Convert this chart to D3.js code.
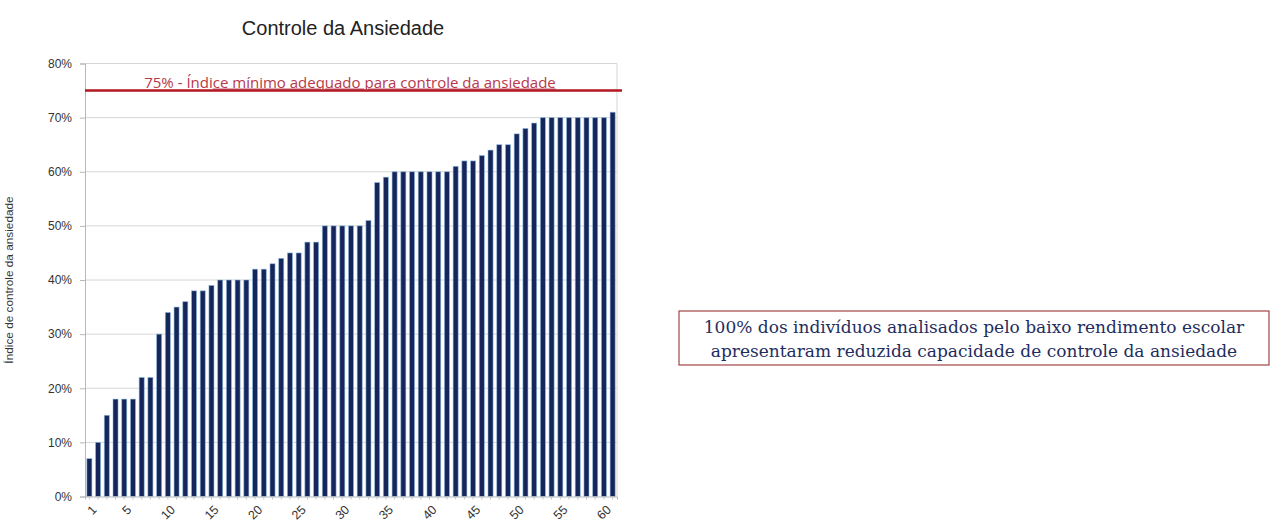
<!DOCTYPE html>
<html>
<head>
<meta charset="utf-8">
<script src="https://cdn.jsdelivr.net/npm/d3@7"></script>
<style>
  html, body { margin: 0; padding: 0; background: #fff; }
  svg { display: block; }
</style>
</head>
<body>
<svg id="chart" width="1271" height="525"></svg>
<script>
// ---- data ----
const categories = [1,2,3,4,5,6,7,8,9,10,11,12,13,14,15,16,17,18,19,20,
  21,22,23,24,25,26,27,28,29,30,31,32,33,34,35,36,37,38,39,40,
  41,42,43,44,45,46,47,48,49,50,51,52,53,54,55,56,57,58,59,60,61];
const values = [7,10,15,18,18,18,22,22,30,34,35,36,38,38,39,40,40,40,40,42,
  42,43,44,45,45,47,47,50,50,50,50,50,51,58,59,60,60,60,60,60,
  60,60,61,62,62,63,64,65,65,67,68,69,70,70,70,70,70,70,70,70,71];
const xTickLabels = [1,5,10,15,20,25,30,35,40,45,50,55,60];
const yTicks = [0,10,20,30,40,50,60,70,80];
const thresholdValue = 75;
const title = "Controle da Ansiedade";
const yTitle = "Índice de controle da ansiedade";
const thresholdLabelA = "75% - Índi";
const thresholdLabelB = "ce mínimo adequado para controle da ansiedade";
const noteLines = [
  "100% dos indivíduos analisados pelo baixo rendimento escolar",
  "apresentaram reduzida capacidade de controle da ansiedade"
];

// ---- layout ----
const svg = d3.select("#chart");
const plot = { left: 85, right: 617, top: 63.5, bottom: 496.5 };

const x = d3.scaleBand().domain(categories).range([plot.left, plot.right]).paddingInner(0.42).paddingOuter(0.21);
const y = d3.scaleLinear().domain([0, 80]).range([plot.bottom, plot.top]);

// gridlines
svg.append("g").selectAll("line").data(yTicks.filter(d => d > 0)).join("line")
  .attr("x1", plot.left).attr("x2", plot.right)
  .attr("y1", d => y(d)).attr("y2", d => y(d))
  .attr("stroke", "#d6d6d6").attr("stroke-width", 1);

// plot border (right)
svg.append("line").attr("x1", plot.right).attr("x2", plot.right)
  .attr("y1", plot.top).attr("y2", plot.bottom).attr("stroke", "#d6d6d6");

// bars
svg.append("g").selectAll("rect").data(values).join("rect")
  .attr("x", (d, i) => x(categories[i]))
  .attr("width", x.bandwidth())
  .attr("y", d => y(d))
  .attr("height", d => y(0) - y(d))
  .attr("fill", "#17265a")
  .attr("stroke", "#8fbde3").attr("stroke-width", 0.8).attr("stroke-opacity", 0.7);

// y axis
const yAxis = svg.append("g").attr("transform", `translate(${plot.left},0)`)
  .call(d3.axisLeft(y).tickValues(yTicks).tickSize(5).tickPadding(8).tickFormat(d => d + "%"));
yAxis.select(".domain").attr("stroke", "#b8b8b8");
yAxis.selectAll(".tick line").attr("stroke", "#b8b8b8");
yAxis.selectAll("text").attr("font-family", "Liberation Sans, Arial, sans-serif")
  .attr("font-size", 12).attr("fill", "#333");

// x axis
const xAxis = svg.append("g").attr("transform", `translate(0,${plot.bottom})`)
  .call(d3.axisBottom(x).tickValues(categories).tickSize(3)
    .tickFormat(d => xTickLabels.includes(d) ? String(d) : ""));
xAxis.select(".domain").attr("stroke", "#b8b8b8");
xAxis.selectAll(".tick line").attr("stroke", "#c4c4c4");
xAxis.selectAll("text").attr("font-family", "Liberation Sans, Arial, sans-serif")
  .attr("font-size", 12.5).attr("fill", "#333")
  .attr("text-anchor", "end")
  .attr("x", 0).attr("y", 0).attr("dx", 0).attr("dy", 0)
  .attr("transform", "translate(8,14) rotate(-45)");

// threshold line
svg.append("line")
  .attr("x1", plot.left).attr("x2", plot.right + 5)
  .attr("y1", y(thresholdValue)).attr("y2", y(thresholdValue))
  .attr("stroke", "#b3161f").attr("stroke-width", 2.6);

const tl = svg.append("text")
  .attr("x", 350)
  .attr("y", y(thresholdValue) - 3)
  .attr("text-anchor", "middle")
  .attr("font-family", "Open Sans, sans-serif")
  .attr("font-size", 15)
  .attr("fill", "#b8384a");
tl.append("tspan").text(thresholdLabelA);
tl.append("tspan").attr("text-decoration", "underline").text(thresholdLabelB);

// title
svg.append("text")
  .attr("x", 343).attr("y", 35)
  .attr("text-anchor", "middle")
  .attr("font-family", "Liberation Sans, Arial, sans-serif")
  .attr("font-size", 20).attr("fill", "#222")
  .text(title);

// y title
svg.append("text")
  .attr("transform", `translate(13,${(plot.top + plot.bottom) / 2}) rotate(-90)`)
  .attr("text-anchor", "middle")
  .attr("font-family", "Liberation Sans, Arial, sans-serif")
  .attr("font-size", 11.8).attr("fill", "#333")
  .text(yTitle);

// note box
const box = { x: 679, y: 311, w: 590, h: 54 };
svg.append("rect").attr("x", box.x).attr("y", box.y).attr("width", box.w).attr("height", box.h)
  .attr("fill", "#fff").attr("stroke", "#a14444").attr("stroke-width", 1.2);
svg.append("g").selectAll("text").data(noteLines).join("text")
  .attr("x", box.x + box.w / 2)
  .attr("y", (d, i) => box.y + 22 + i * 24)
  .attr("text-anchor", "middle")
  .attr("font-family", "DejaVu Serif, serif")
  .attr("font-size", 17)
  .attr("fill", "#1f2d5e")
  .text(d => d);
</script>
</body>
</html>
